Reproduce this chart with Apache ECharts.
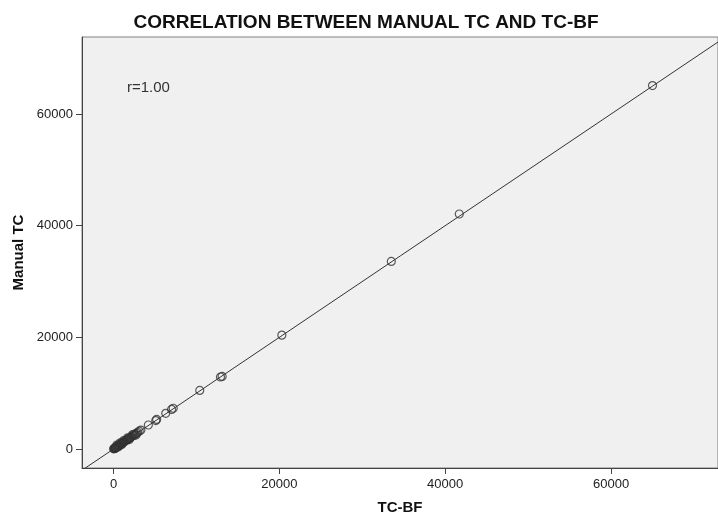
<!DOCTYPE html>
<html>
<head>
<meta charset="utf-8">
<script src="https://cdn.jsdelivr.net/npm/echarts@6/dist/echarts.min.js"></script>
<style>
  html, body { margin: 0; padding: 0; background: #ffffff; }
  #chart { width: 718px; height: 516px; }
</style>
</head>
<body>
<div id="chart"></div>
<script>
// Data
var tcBF = [65000, 41700, 33500, 20300, 13100, 12900, 10400, 7200, 7000, 6300, 5200, 5100,
  4200, 3300, 3100, 2900, 2800, 2600, 2500, 2400, 2200, 2100, 2000, 1900, 1800, 1700, 1600,
  1500, 1400, 1300, 1200, 1100, 1000, 950, 900, 800, 700, 650, 600, 500, 450, 400, 350,
  300, 250, 200, 150, 100, 60, 30, 2300, 1700, 1200, 800, 400, 2700, 1900, 1000, 600, 200];
var manualTC = [65100, 42100, 33600, 20400, 13000, 12900, 10500, 7300, 7100, 6400, 5300, 5100,
  4300, 3400, 3200, 3000, 2800, 2700, 2500, 2400, 2300, 2100, 2000, 1950, 1800, 1750, 1600,
  1550, 1400, 1350, 1250, 1100, 1050, 950, 900, 850, 700, 650, 600, 550, 450, 400, 350,
  300, 250, 200, 150, 100, 60, 30, 2600, 2000, 1500, 1100, 700, 2500, 1700, 800, 400, 100];
var fitX = [-3800, 73000];
var fitY = [-3800, 73000];
var xTicks = [0, 20000, 40000, 60000];
var yTicks = [0, 20000, 40000, 60000];
var titleText = 'CORRELATION BETWEEN MANUAL TC AND TC-BF';
var xName = 'TC-BF';
var yName = 'Manual TC';
var rLabel = 'r=1.00';

var points = tcBF.map(function (v, i) { return [v, manualTC[i]]; });
var fitLine = fitX.map(function (v, i) { return [v, fitY[i]]; });
var plain = function (v) { return String(v); };

var chart = echarts.init(document.getElementById('chart'), null, { renderer: 'canvas' });
var font = 'Liberation Sans, Arial, sans-serif';
chart.setOption({
  animation: false,
  backgroundColor: '#ffffff',
  title: {
    text: titleText,
    left: 361, top: 8, textAlign: 'center',
    textStyle: { fontFamily: font, fontSize: 19, fontWeight: 'bold', color: '#111' }
  },
  grid: {
    left: 82, right: 0, top: 37, bottom: 48,
    outerBoundsMode: 'none', containLabel: false,
    show: true, backgroundColor: '#f0f0f0', borderColor: '#808080', borderWidth: 1
  },
  graphic: [{
    type: 'text', left: 127, top: 80,
    style: { text: rLabel, fontFamily: font, fontSize: 15, fill: '#333' }
  }],
  xAxis: {
    type: 'value', min: -3800, max: 72900,
    name: xName, nameLocation: 'middle', nameGap: 32,
    nameTextStyle: { fontFamily: font, fontSize: 15, fontWeight: 'bold', color: '#111' },
    splitLine: { show: false },
    axisLine: { show: true, onZero: false, lineStyle: { color: '#444', width: 1 } },
    axisTick: { show: true, customValues: xTicks, length: 6, lineStyle: { color: '#444' } },
    axisLabel: { customValues: xTicks, formatter: plain, fontFamily: font, fontSize: 13, color: '#222', margin: 10 }
  },
  yAxis: {
    type: 'value', min: -3400, max: 73800,
    name: yName, nameLocation: 'middle', nameGap: 56,
    nameTextStyle: { fontFamily: font, fontSize: 15, fontWeight: 'bold', color: '#111' },
    splitLine: { show: false },
    axisLine: { show: true, onZero: false, lineStyle: { color: '#444', width: 1 } },
    axisTick: { show: true, customValues: yTicks, length: 6, lineStyle: { color: '#444' } },
    axisLabel: { customValues: yTicks, formatter: plain, fontFamily: font, fontSize: 13, color: '#222', margin: 9 }
  },
  series: [{
    type: 'line', data: fitLine, symbol: 'none', silent: true,
    lineStyle: { color: '#333', width: 1 }, z: 2
  }, {
    type: 'scatter', data: points, symbol: 'circle', symbolSize: 8,
    itemStyle: { color: 'rgba(0,0,0,0)', borderColor: '#333', borderWidth: 1.2 }, z: 3
  }]
});
</script>
</body>
</html>
